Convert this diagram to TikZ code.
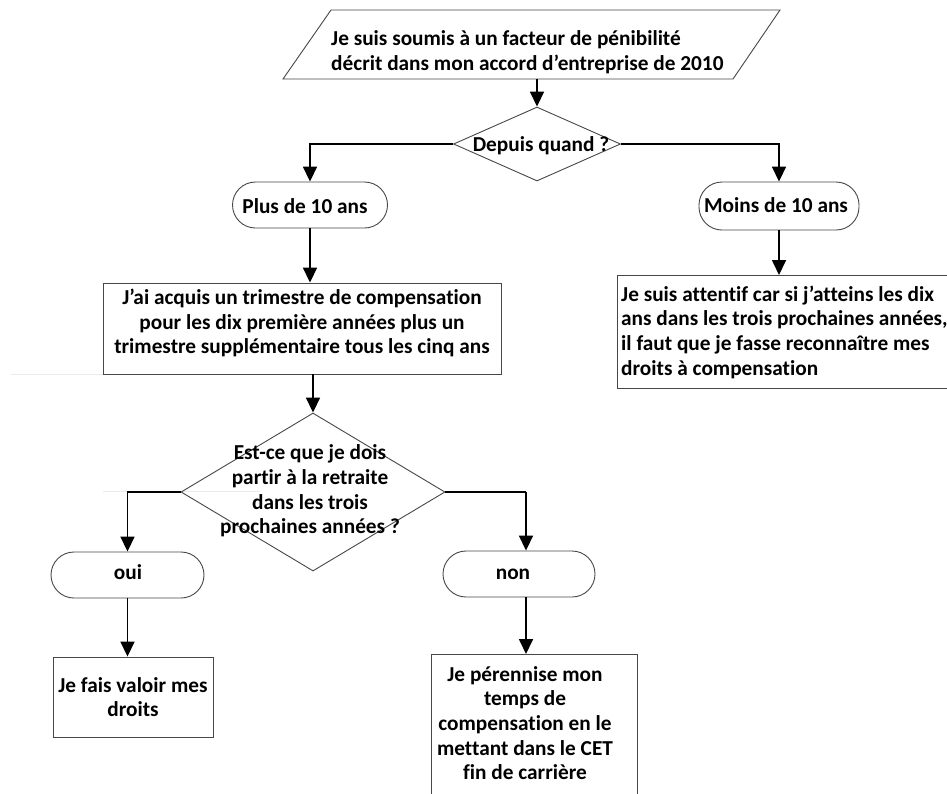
\documentclass[tikz,border=0pt]{standalone}
\usepackage{fontspec}
\setmainfont[Ligatures={NoCommon,NoContextual}, Contextuals={NoAlternate}, RawFeature={-liga}]{Carlito}
\usetikzlibrary{shapes.geometric,arrows.meta}
\begin{document}
\begin{tikzpicture}[x=1pt,y=-1pt,
  txt/.style={font=\bfseries\fontsize{21.3}{24.7}\selectfont, inner sep=0pt, align=center},
  shp/.style={draw=black!72, line width=0.9pt, inner sep=0pt},
  boxshape/.style={shp, rectangle},
  term/.style={shp, rectangle, rounded corners=23pt, minimum height=46pt},
  dec/.style={shp, diamond},
  conn/.style={line width=1.7pt, draw=black},
  arr/.style={conn, -{Triangle[width=14pt,length=15pt]}},
  faint/.style={draw=black!8, line width=1pt}
]
\clip (0,0) rectangle (947,793);
\fill[white] (0,0) rectangle (947,793);

% faint artefact lines
\draw[faint] (11,374.5) -- (103,374.5);
\draw[faint] (103,491.5) -- (260,491.5);

% input parallelogram
\coordinate (p1) at (331,10);
\coordinate (p2) at (780,10);
\coordinate (p3) at (733,79);
\coordinate (p4) at (283,79);
\draw[shp] (p1) -- (p2) -- (p3) -- (p4) -- cycle;
\node[txt, align=left, anchor=west] (in) at (331,52) {Je suis soumis à un facteur de pénibilité\\décrit dans mon accord d’entreprise de 2010};
\coordinate (inb) at (537,79);

% decision 1
\node[dec, minimum width=167pt, minimum height=74pt] (d1) at (537,144) {};
\node[txt] (d1t) at (541,146) {Depuis quand ?};

% terminals
\node[term, minimum width=155pt] (plus) at (310,205) {};
\node[txt] (plust) at (305,206) {Plus de 10 ans};
\node[term, minimum width=160pt, minimum height=48pt] (moins) at (779,206) {};
\node[txt] (moinst) at (776,205) {Moins de 10 ans};

% box left
\node[boxshape, minimum width=398pt, minimum height=91pt] (b1) at (302,328.5) {};
\node[txt] (b1t) at (302,323) {J’ai acquis un trimestre de compensation\\pour les dix première années plus un\\trimestre supplémentaire tous les cinq ans};

% box right
\node[boxshape, minimum width=350pt, minimum height=113pt, anchor=north west] (b2) at (617,275) {};
\node[txt, align=left, anchor=west] (b2t) at (621,332) {Je suis attentif car si j’atteins les dix\\ans dans les trois prochaines années,\\il faut que je fasse reconnaître mes\\droits à compensation};

% decision 2
\node[dec, minimum width=264pt, minimum height=158pt] (d2) at (313,492) {};
\node[txt] (d2t) at (310,491) {Est-ce que je dois\\partir à la retraite\\dans les trois\\prochaines années ?};

% oui / non
\node[term, minimum width=153pt] (oui) at (127.5,575) {};
\node[txt] (ouit) at (128,572) {oui};
\node[term, minimum width=152pt] (non) at (519,574) {};
\node[txt] (nont) at (513,574) {non};

% final boxes
\node[boxshape, minimum width=160pt, minimum height=80pt] (b3) at (133,697) {};
\node[txt] (b3t) at (133,697) {Je fais valoir mes\\droits};
\node[boxshape, minimum width=206pt, minimum height=170pt, anchor=north] (b4) at (534,654) {};
\node[txt] (b4t) at (525,723) {Je pérennise mon\\temps de\\compensation en le\\mettant dans le CET\\fin de carrière};

% connectors
\draw[arr] (inb) -- (d1.north);
\draw[arr] (d1.west) -| (plus.north);
\draw[arr] (d1.east) -| (moins.north);
\draw[arr] (plus.south) -- (plus.south |- b1.north);
\draw[arr] (moins.south) -- (moins.south |- b2.north);
\draw[arr] (b1.south -| d2.north) -- (d2.north);
\draw[arr] (d2.west) -| (oui.north);
\draw[arr] ([xshift=7pt]non.north |- d2.east) -- ([xshift=7pt]non.north);
\draw[conn] (d2.east) -- ([xshift=7pt]non.north |- d2.east);
\draw[arr] (oui.south) -- (oui.south |- b3.north);
\draw[arr] ([xshift=7pt]non.south) -- ([xshift=7pt]non.south |- b4.north);
\end{tikzpicture}
\end{document}
